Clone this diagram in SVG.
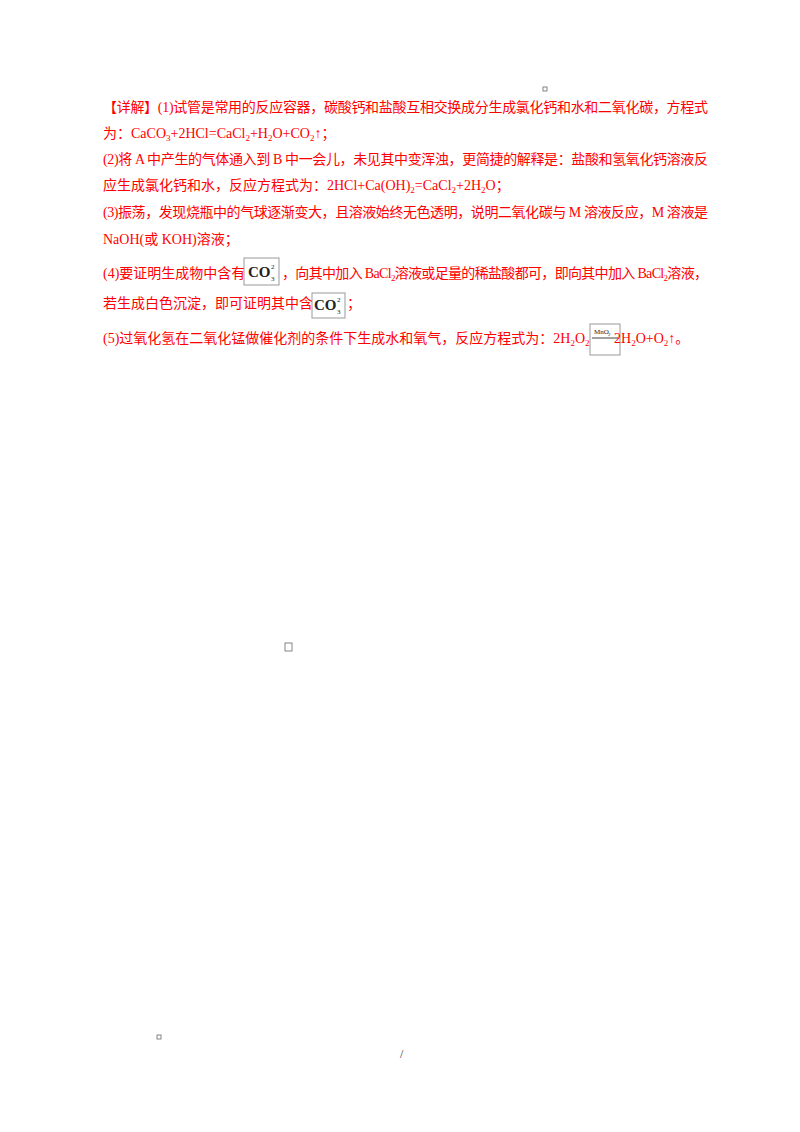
<svg xmlns="http://www.w3.org/2000/svg" width="800" height="1132" viewBox="0 0 800 1132">
<style>
.t{font-family:"Liberation Serif","Noto Sans CJK SC",serif;font-size:14px;fill:#ff0000}
.s{font-size:9px}
.img{fill:#fff;stroke:#999;stroke-width:1}
.co{font-family:"Liberation Serif",serif;font-size:15px;font-weight:bold;fill:#222}
.co2{font-family:"Liberation Serif",serif;font-size:7px;fill:#222}
.sq{fill:none;stroke:#666;stroke-width:0.8}
</style>
<rect width="800" height="1132" fill="#fff"/>
<rect class="sq" x="543" y="87" width="4" height="4"/>
<text class="t" x="103" y="112" textLength="605" lengthAdjust="spacing">【详解】(1)试管是常用的反应容器，碳酸钙和盐酸互相交换成分生成氯化钙和水和二氧化碳，方程式</text>
<text class="t" x="103" y="138">为：CaCO<tspan class="s" dy="3">3</tspan><tspan dy="-3">+2HCl=CaCl</tspan><tspan class="s" dy="3">2</tspan><tspan dy="-3">+H</tspan><tspan class="s" dy="3">2</tspan><tspan dy="-3">O+CO</tspan><tspan class="s" dy="3">2</tspan><tspan dy="-3">↑；</tspan></text>
<text class="t" x="103" y="164" textLength="605" lengthAdjust="spacing">(2)将 A 中产生的气体通入到 B 中一会儿，未见其中变浑浊，更简捷的解释是：盐酸和氢氧化钙溶液反</text>
<text class="t" x="103" y="190">应生成氯化钙和水，反应方程式为：2HCl+Ca(OH)<tspan class="s" dy="3">2</tspan><tspan dy="-3">=CaCl</tspan><tspan class="s" dy="3">2</tspan><tspan dy="-3">+2H</tspan><tspan class="s" dy="3">2</tspan><tspan dy="-3">O；</tspan></text>
<text class="t" x="103" y="217" textLength="605" lengthAdjust="spacing">(3)振荡，发现烧瓶中的气球逐渐变大，且溶液始终无色透明，说明二氧化碳与 M 溶液反应，M 溶液是</text>
<text class="t" x="103" y="244">NaOH(或 KOH)溶液；</text>
<text class="t" x="103" y="278">(4)要证明生成物中含有</text>
<g><rect class="img" x="244" y="258" width="35" height="27"/><text class="co" x="248" y="277">CO</text><text class="co2" x="271" y="269">2</text><text class="co2" x="271" y="281">3</text></g>
<text class="t" x="282" y="278" textLength="426" lengthAdjust="spacing">，向其中加入 BaCl<tspan class="s" dy="3">2</tspan><tspan dy="-3">溶液或足量的稀盐酸都可，即向其中加入 BaCl</tspan><tspan class="s" dy="3">2</tspan><tspan dy="-3">溶液，</tspan></text>
<text class="t" x="103" y="308">若生成白色沉淀，即可证明其中含</text>
<g><rect class="img" x="312" y="293" width="33" height="25"/><text class="co" x="314" y="310">CO</text><text class="co2" x="337" y="302">2</text><text class="co2" x="337" y="314">3</text></g>
<text class="t" x="347" y="308">；</text>
<text class="t" x="103" y="343">(5)过氧化氢在二氧化锰做催化剂的条件下生成水和氧气，反应方程式为：2H<tspan class="s" dy="3">2</tspan><tspan dy="-3">O</tspan><tspan class="s" dy="3">2</tspan></text>
<g><rect class="img" x="590" y="324" width="30" height="31"/><text class="co2" x="594" y="334">MnO</text><text class="co2" x="608" y="336" style="font-size:5px">2</text><line x1="592" y1="338" x2="618" y2="338" stroke="#444" stroke-width="1"/></g>
<text class="t" x="614" y="343">2H<tspan class="s" dy="3">2</tspan><tspan dy="-3">O+O</tspan><tspan class="s" dy="3">2</tspan><tspan dy="-3">↑。</tspan></text>
<rect class="sq" x="285" y="643" width="7" height="8"/>
<rect class="sq" x="157" y="1035" width="4" height="4"/>
<text x="400" y="1058" style="font-family:'Liberation Serif',serif;font-size:12px;fill:#333">/</text>
</svg>
